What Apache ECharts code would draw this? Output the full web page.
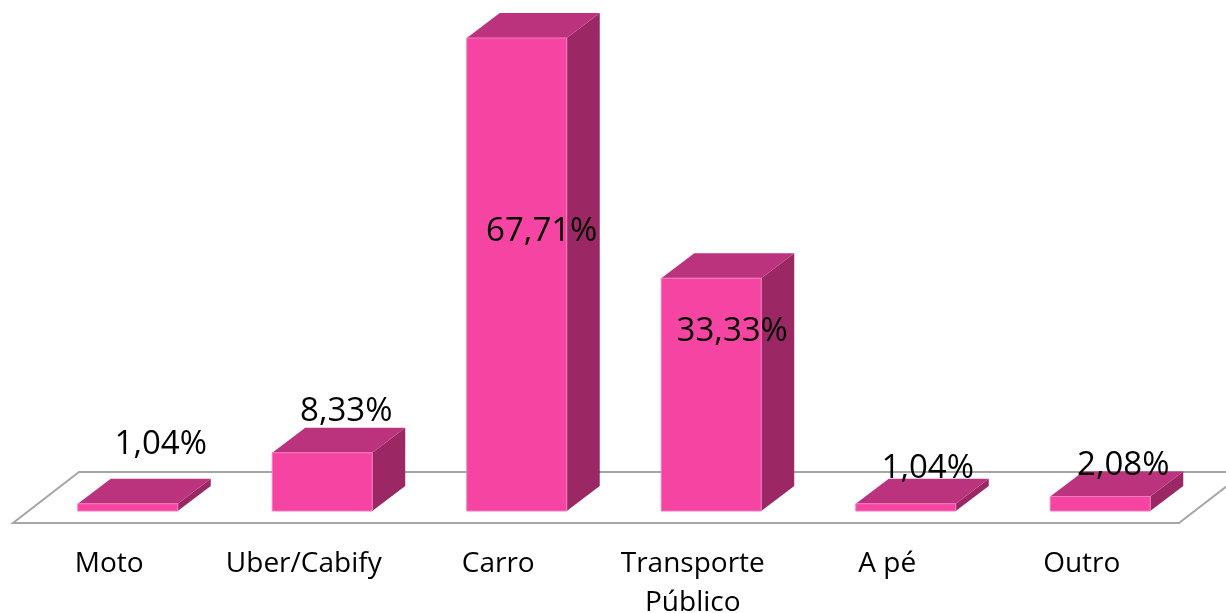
<!DOCTYPE html>
<html>
<head>
<meta charset="utf-8">
<script src="https://cdn.jsdelivr.net/npm/echarts@6/dist/echarts.min.js"></script>
<style>
  html, body { margin: 0; padding: 0; background: #ffffff; overflow: hidden; }
  #chart { width: 1226px; height: 613px; }
</style>
</head>
<body>
<div id="chart"></div>
<script>
// ---- data ----
const categories = ['Moto', 'Uber/Cabify', 'Carro', 'Transporte Público', 'A pé', 'Outro'];
const values = [1.04, 8.33, 67.71, 33.33, 1.04, 2.08];

// ---- layout / style (not data) ----
const FONT = '"Open Sans", "Liberation Sans", sans-serif';
const COLORS = { front: '#F544A2', top: '#BB337C', side: '#9B2864', edge: '#F77BBE', floor: '#A6A6A6' };
const DEPTH = { dx: 33, dy: 25 };          // bar depth projection
const FLOOR_DEPTH = { dx: 66, dy: 51 };    // floor depth projection
const BAR_SHIFT = { x: 18.5, y: 12 };      // bar front face offset from floor front edge
// Excel-style label placement nudges, px relative to bar front-top centre
const labelNudge = [[33, -59], [24, -41], [25, 194], [21, 53], [22, -35], [23, -31]];

function fmt(v) { return v.toFixed(2).replace('.', ',') + '%'; }

const chart = echarts.init(document.getElementById('chart'), null, { renderer: 'canvas', width: 1226, height: 613 });

function renderFloor(params, api) {
  const cs = params.coordSys;
  const yf = cs.y + cs.height;
  const xl = cs.x + 1, xr = cs.x + cs.width;
  return {
    type: 'polygon',
    shape: { points: [[xl, yf], [xr, yf], [xr + FLOOR_DEPTH.dx, yf - FLOOR_DEPTH.dy], [xl + FLOOR_DEPTH.dx, yf - FLOOR_DEPTH.dy]] },
    style: { fill: '#ffffff', stroke: COLORS.floor, lineWidth: 2 }
  };
}

function renderBar(params, api) {
  const i = api.value(0);
  const v = api.value(1);
  const base = api.coord([i, 0]);
  const top = api.coord([i, v]);
  const w = api.size([1, 0])[0] * 0.514;
  const cx = base[0] + BAR_SHIFT.x;
  const yb = base[1] - BAR_SHIFT.y;
  const yt = top[1] - BAR_SHIFT.y;
  const x0 = cx - w / 2, x1 = cx + w / 2;
  const dx = DEPTH.dx, dy = DEPTH.dy;
  const n = labelNudge[params.dataIndex];
  return {
    type: 'group',
    children: [
      { type: 'polygon', shape: { points: [[x1, yb], [x1, yt], [x1 + dx, yt - dy], [x1 + dx, yb - dy]] },
        style: { fill: COLORS.side } },
      { type: 'polygon', shape: { points: [[x0, yt], [x1, yt], [x1 + dx, yt - dy], [x0 + dx, yt - dy]] },
        style: { fill: COLORS.top } },
      { type: 'rect', shape: { x: x0, y: yt, width: w, height: yb - yt },
        style: { fill: COLORS.front, stroke: COLORS.edge, lineWidth: 1 } },
      { type: 'text', x: cx + n[0], y: yt + n[1], z2: 10,
        style: { text: fmt(v), fill: '#000000', font: '33px ' + FONT, align: 'center', verticalAlign: 'middle' } }
    ]
  };
}

chart.setOption({
  animation: false,
  backgroundColor: '#ffffff',
  grid: { left: 12, width: 1167, top: 34, height: 489, containLabel: false, outerBoundsMode: 'none' },
  xAxis: {
    type: 'category',
    data: categories,
    axisLine: { show: false },
    axisTick: { show: false },
    splitLine: { show: false },
    axisLabel: {
      interval: 0,
      margin: 22,
      color: '#000000',
      fontFamily: FONT,
      fontSize: 28,
      lineHeight: 39,
      formatter: function (v) { return v.length > 12 ? v.replace(' ', '\n') : v; }
    }
  },
  yAxis: { type: 'value', min: 0, max: 70, show: false, splitLine: { show: false } },
  series: [
    { type: 'custom', name: 'floor', data: [[0, 0]], renderItem: renderFloor, clip: false, silent: true, z: 1 },
    { type: 'custom', name: 'valores', data: values.map((v, i) => [i, v]), renderItem: renderBar, clip: false, z: 2 }
  ]
});
</script>
</body>
</html>
